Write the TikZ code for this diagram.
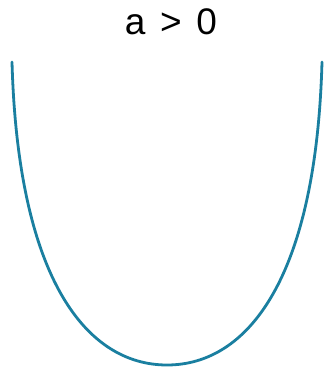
\documentclass[tikz,border=0pt]{standalone}
\usepackage{fontspec}
\setmainfont{Liberation Sans}
\definecolor{curveteal}{HTML}{1A7FA0}
\tikzset{curve/.style={draw=curveteal, line width=2.8pt, line cap=round}}
\begin{document}
\begin{tikzpicture}[x=1pt,y=-1pt]
\useasboundingbox (0,0) rectangle (326,374);
\node[font=\fontsize{37}{42}\selectfont, anchor=base] (label) at (171,35) {a\hspace{0.12em} >\hspace{0.12em} 0};
\coordinate (L) at (12,62);
\coordinate (B) at (167,365);
\coordinate (R) at (322,62);
\draw[curve] (L) .. controls (18,280) and (87,365) .. (B)
  .. controls (247,365) and (316,280) .. (R);
\end{tikzpicture}
\end{document}
